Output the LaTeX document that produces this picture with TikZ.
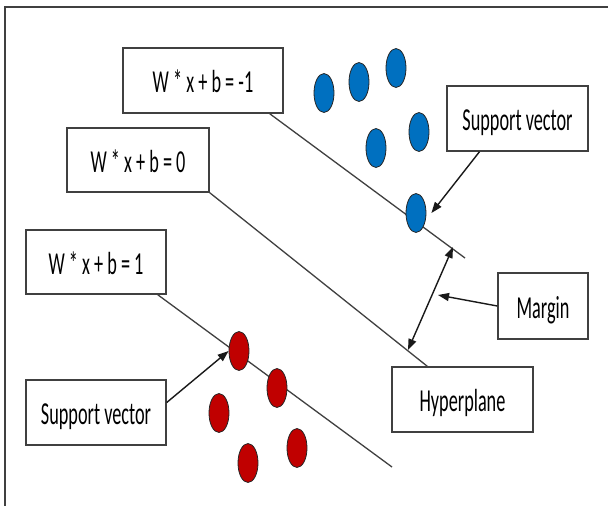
\documentclass[tikz,border=0pt]{standalone}
\usepackage{fontspec}
\setmainfont[FakeStretch=0.57]{Carlito}
\usetikzlibrary{shapes.geometric,arrows.meta}
\definecolor{svblue}{HTML}{0070C0}
\definecolor{svred}{HTML}{C00000}
\definecolor{frame}{HTML}{404040}
\tikzset{
  lbox/.style={draw=frame, line width=1.4pt, fill=white, inner sep=0pt, text height=28pt, text depth=4pt, font=\fontsize{32}{38}\selectfont},
  dotb/.style={ellipse, draw=black!85, line width=0.8pt, fill=svblue, minimum width=20pt, minimum height=39pt, inner sep=0pt},
  dotr/.style={ellipse, draw=black!85, line width=0.8pt, fill=svred, minimum width=20pt, minimum height=39pt, inner sep=0pt},
  plane/.style={draw=frame, line width=1.3pt},
  arr/.style={draw=black!90, line width=1.4pt, -{Triangle[length=11pt,width=8pt]}},
  darr/.style={draw=black!90, line width=1.4pt, {Triangle[length=11pt,width=8pt]}-{Triangle[length=11pt,width=8pt]}},
}
\begin{document}
\begin{tikzpicture}[x=1pt,y=-1pt]
\useasboundingbox (0,0) rectangle (608,506);
\fill[white] (0,0) rectangle (608,506);
\draw[frame, line width=1.6pt] (5,506) -- (5,7) -- (608,7);

% label boxes
\node[lbox, minimum width=160pt, minimum height=65pt] (m1) at (203,80.5) {W * x + b = -1};
\node[lbox, minimum width=142pt, minimum height=64pt] (z0) at (138,160) {W * x + b = 0};
\node[lbox, minimum width=140pt, minimum height=64pt] (p1) at (96,262) {W * x + b = 1};
\node[lbox, minimum width=141pt, minimum height=65pt] (svt) at (517.5,118.5) {Support vector};
\node[lbox, minimum width=90pt, minimum height=66pt] (mg) at (543,306) {Margin};
\node[lbox, minimum width=141pt, minimum height=65pt] (hyp) at (462.5,399.5) {Hyperplane};
\node[lbox, minimum width=140pt, minimum height=65pt] (svb) at (96,412.5) {Support vector};

% free ends
\coordinate (e1) at (465,258);
\coordinate (e3) at (392,467);
\coordinate (ma) at (453,247);
\coordinate (mb) at (408,350);
\coordinate (mp) at (438,295);

% planes
\draw[plane] ([xshift=-14pt]m1.south east) -- (e1);
\draw[plane] (z0.south east) -- ([xshift=36pt]hyp.north west);
\draw[plane] ([xshift=-9pt]p1.south east) -- (e3);

% blue dots
\node[dotb] (b1) at (324,93) {};
\node[dotb] (b2) at (359,82) {};
\node[dotb] (b3) at (396,68) {};
\node[dotb] (b4) at (376,148) {};
\node[dotb] (b5) at (419,132) {};
\node[dotb] (b6) at (416,213) {};

% red dots
\node[dotr] (r1) at (239,351) {};
\node[dotr] (r2) at (277,388) {};
\node[dotr] (r3) at (219,413) {};
\node[dotr] (r4) at (297,448) {};
\node[dotr] (r5) at (248,463) {};

% arrows
\draw[arr] ([xshift=-38pt]svt.south) -- ([xshift=5pt]b6.east);
\draw[arr] ([yshift=10pt]svb.east) -- (r1.west);
\draw[darr] (mb) -- (ma);
\draw[arr] (mg.west) -- (mp);
\end{tikzpicture}
\end{document}
